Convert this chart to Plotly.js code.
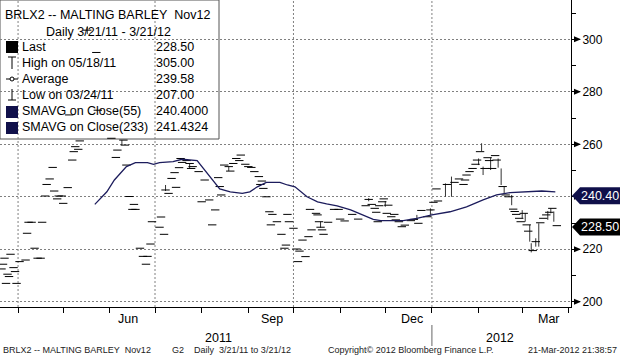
<!DOCTYPE html>
<html><head><meta charset="utf-8">
<script src="https://cdn.plot.ly/plotly-3.0.1.min.js"></script>
<style>html,body{margin:0;padding:0;background:#fff}#chart{width:620px;height:357px}</style>
</head><body><div id="chart"></div>
<script>
// ---- data ----
const dashDates = ['2011-03-21','2011-03-22','2011-03-23','2011-03-24','2011-03-25','2011-03-26','2011-03-27','2011-03-29','2011-03-30','2011-03-31',
'2011-04-02','2011-04-06','2011-04-07','2011-04-08','2011-04-10','2011-04-12','2011-04-14','2011-04-16','2011-04-17','2011-04-19',
'2011-04-20','2011-04-22','2011-04-24','2011-04-25','2011-04-27','2011-04-28','2011-04-30','2011-05-01','2011-05-04','2011-05-05',
'2011-05-07','2011-05-08','2011-05-09','2011-05-11','2011-05-12','2011-05-17','2011-05-23','2011-05-24','2011-06-02','2011-06-05',
'2011-06-06','2011-06-10','2011-06-11','2011-06-12','2011-06-14','2011-06-16','2011-06-17','2011-06-18','2011-06-21','2011-06-23',
'2011-06-25','2011-06-26','2011-06-28','2011-06-29','2011-07-04','2011-07-05','2011-07-07','2011-07-08','2011-07-10','2011-07-12',
'2011-07-14','2011-07-15','2011-07-17','2011-07-18','2011-07-19','2011-07-22','2011-07-24','2011-07-25','2011-07-26','2011-07-30',
'2011-08-01','2011-08-03','2011-08-06','2011-08-08','2011-08-10','2011-08-12','2011-08-13','2011-08-14','2011-08-16','2011-08-19',
'2011-08-20','2011-08-22','2011-08-24','2011-08-26','2011-08-27','2011-08-30','2011-09-01','2011-09-03','2011-09-05','2011-09-08',
'2011-09-09','2011-09-10','2011-09-11','2011-09-13','2011-09-15','2011-09-16','2011-09-17','2011-09-20','2011-09-23','2011-09-25',
'2011-09-26','2011-09-27','2011-09-28','2011-10-01','2011-10-03','2011-10-04','2011-10-05','2011-10-07','2011-10-09','2011-10-11',
'2011-10-12','2011-10-13','2011-10-16','2011-10-17','2011-10-18','2011-10-19','2011-10-20','2011-10-21','2011-10-24','2011-10-28',
'2011-10-31','2011-11-01','2011-11-04','2011-11-09','2011-11-13','2011-11-18','2011-11-20','2011-11-22','2011-11-24','2011-11-25',
'2011-11-26','2011-11-27','2011-11-29','2011-11-30','2011-12-02','2011-12-03','2011-12-05','2011-12-07','2011-12-08','2011-12-10',
'2011-12-12','2011-12-14','2011-12-18','2011-12-20','2011-12-23','2011-12-25','2011-12-29','2011-12-31','2012-01-02','2012-01-04',
'2012-01-05','2012-01-11','2012-01-16','2012-01-19','2012-01-22','2012-01-23','2012-01-24','2012-01-26','2012-01-28','2012-01-30',
'2012-01-31','2012-02-02','2012-02-05','2012-02-07','2012-02-08','2012-02-10','2012-02-12','2012-02-13','2012-02-17','2012-02-19',
'2012-02-21','2012-02-24','2012-02-25','2012-02-26','2012-02-28','2012-02-29','2012-03-02','2012-03-04','2012-03-05','2012-03-08',
'2012-03-10','2012-03-13','2012-03-15','2012-03-17','2012-03-19','2012-03-21','2012-03-24'];
const dashPrices = [212.5,214.3,216.6,207.0,210.5,209.6,218.1,213.0,211.5,207.0,
215.3,215.9,226.1,230.3,230.3,220.4,216.6,216.6,230.3,240.3,
244.7,246.8,251.2,242.2,239.2,240.3,240.3,237.5,243.5,271.2,
254.0,257.2,259.1,258.1,261.3,303.5,295.0,273.0,262.3,255.0,
257.8,261.6,259.7,252.1,240.1,235.2,237.1,235.2,220.4,217.3,
214.3,217.3,222.0,230.5,228.4,232.3,225.7,242.6,241.3,247.0,
249.2,243.6,251.1,254.6,253.1,253.8,252.7,250.8,251.5,249.6,
238.1,246.4,238.8,229.3,235.0,247.3,243.9,240.7,252.1,251.5,
249.8,252.7,254.6,253.8,255.9,252.4,251.5,251.2,249.6,247.7,
244.7,246.0,243.2,240.0,234.3,229.3,233.3,230.5,225.7,220.4,
221.6,233.3,230.5,228.0,220.1,215.3,219.3,223.5,217.2,224.8,
235.2,227.4,233.7,233.1,230.5,228.4,227.4,225.7,230.3,235.2,
235.2,231.5,230.8,233.3,231.5,236.6,239.0,237.1,235.6,234.1,
230.5,236.6,238.1,239.2,233.7,236.8,232.4,233.3,231.2,230.5,
228.6,229.2,230.9,231.4,229.9,234.8,232.4,235.0,237.9,243.0,
238.4,244.7,245.5,246.8,244.7,246.4,248.3,249.6,250.8,252.4,
254.0,257.2,250.8,254.9,253.8,250.8,255.7,254.0,243.9,240.7,
240.0,235.3,234.4,233.3,231.8,230.5,233.7,229.3,226.9,219.5,
222.9,230.1,231.8,233.1,234.1,235.6,229.0];

const rangeDates = ['2011-05-17','2011-06-09','2011-07-08','2011-07-24','2011-08-19','2011-10-19','2011-11-20','2011-12-01','2011-12-22','2011-12-31',
'2012-01-10','2012-01-14','2012-02-01','2012-02-03','2012-02-04','2012-02-09','2012-02-14','2012-02-16','2012-02-18','2012-02-23',
'2012-03-01','2012-03-03','2012-03-06','2012-03-07','2012-03-10','2012-03-12','2012-03-18','2012-03-20','2012-03-22'];
const rangeLows  = [302.0,259.7,242.2,250.8,249.8,228.2,238.3,236.2,231.2,233.1,
240.0,240.0,252.1,257.4,248.3,250.2,251.1,244.5,241.3,236.8,
231.8,230.5,222.9,218.8,221.0,221.0,231.2,233.7,230.5];
const rangeHighs = [305.0,261.6,244.5,252.7,251.5,230.5,239.5,238.4,233.1,235.6,
245.1,247.7,254.6,260.4,251.5,254.9,254.6,250.8,243.9,240.7,
234.9,233.7,229.3,222.3,224.2,229.9,234.6,235.6,234.4];

const smaDates = ['2011-05-22','2011-05-30','2011-06-04','2011-06-12','2011-06-18','2011-06-26','2011-06-30','2011-07-04','2011-07-13','2011-07-19',
'2011-07-29','2011-08-03','2011-08-08','2011-08-13','2011-08-20','2011-08-28','2011-09-02','2011-09-07','2011-09-13','2011-09-22',
'2011-09-27','2011-10-02','2011-10-10','2011-10-17','2011-10-23','2011-10-30','2011-11-08','2011-11-16','2011-11-23','2011-11-28',
'2011-12-13','2011-12-22','2012-01-01','2012-01-13','2012-01-24','2012-02-04','2012-02-13','2012-02-22','2012-03-06','2012-03-14','2012-03-23'];
const smaValues = [237.1,241.9,246.4,251.5,253.0,253.0,252.4,253.0,253.4,254.3,
253.8,250.2,246.7,243.0,241.9,241.3,241.9,243.8,245.5,245.5,
244.5,243.8,240.0,238.1,237.3,236.5,235.0,233.1,231.4,230.9,
230.9,231.8,233.1,234.3,236.2,238.8,240.7,241.6,242.0,242.2,241.9];

const monthStarts = ['2011-04-01','2011-05-01','2011-06-01','2011-07-01','2011-08-01','2011-09-01','2011-10-01','2011-11-01','2011-12-01','2012-01-01','2012-02-01','2012-03-01','2012-04-01'];
const quarterStarts = ['2011-04-01','2011-07-01','2011-10-01','2012-01-01'];
const monthLabels = ['Jun','Sep','Dec','Mar'];
const monthLabelDates = ['2011-06-13','2011-09-16 17:00','2011-12-18 19:00','2012-03-18 19:00'];
const yearLabels = ['2011','2012'];
const yearLabelDates = ['2011-08-12','2012-02-15'];
const yTicks = [200,220,240,260,280,300];
const yTickLabels = ['200','220','','260','280','300']; // 240 is hidden behind the SMA flag

const legendTitle = 'BRLX2 -- MALTING BARLEY\u00a0 Nov12';
const legendSub = 'Daily 3/21/11 - 3/21/12';
const legendLabels = ['Last','High on 05/18/11','Average','Low on 03/24/11','SMAVG on Close(55)','SMAVG on Close(233)'];
const legendValues = ['228.50','305.00','239.58','207.00','240.4000','241.4324'];
const lastValue = 228.50;
const smaLast = 240.40;
const footerTexts = ['BRLX2 -- MALTING BARLEY\u00a0 Nov12','G2','Daily\u00a0 3/21/11 to 3/21/12','Copyright\u00a9 2012 Bloomberg Finance L.P.','21-Mar-2012 21:38:57'];

// ---- geometry helpers (plot area 571 x 307 px) ----
const PW = 571, PH = 307;
const X = p => p / PW;
const Y = p => 1 - p / PH;
const UPP = (315 - 198) / PH; // price units per pixel
const FONT = 'Liberation Sans, Arial, sans-serif';
const NAVY = '#10104a';

// ---- traces ----
const rx = [], ry = [];
rangeDates.forEach((d, i) => { rx.push(d, d, null); ry.push(rangeLows[i], rangeHighs[i], null); });

const traces = [
  {type:'scatter', mode:'lines', x:rx, y:ry, line:{color:'#333', width:1}, hoverinfo:'skip', showlegend:false},
  {type:'scatter', mode:'markers', x:dashDates, y:dashPrices,
   marker:{symbol:'line-ew', size:6, color:'#000', line:{color:'#000', width:1}}, showlegend:false},
  {type:'scatter', mode:'lines', x:smaDates, y:smaValues, line:{color:'#1c1c5c', width:1.3}, showlegend:false}
];

// ---- shapes ----
const shapes = [];
shapes.push({type:'rect', xref:'paper', yref:'paper', x0:X(0), x1:X(219), y0:Y(139), y1:Y(0), fillcolor:'#fff', line:{color:'#555', width:1}, layer:'below'});
quarterStarts.forEach(d => shapes.push({type:'line', xref:'x', yref:'paper', x0:d, x1:d, y0:0, y1:1, line:{color:'#808080', width:1, dash:'2px,2px'}, layer:'below'}));
shapes.push({type:'rect', xref:'paper', yref:'paper', x0:X(6), x1:X(18), y0:Y(53), y1:Y(41), fillcolor:'#000', line:{width:0}});
shapes.push({type:'line', xref:'paper', yref:'paper', x0:X(12), x1:X(12), y0:Y(57), y1:Y(69), line:{color:'#000', width:1}});
shapes.push({type:'line', xref:'paper', yref:'paper', x0:X(8), x1:X(16), y0:Y(57), y1:Y(57), line:{color:'#000', width:1}});
shapes.push({type:'line', xref:'paper', yref:'paper', x0:X(6), x1:X(18), y0:Y(79), y1:Y(79), line:{color:'#000', width:1}});
shapes.push({type:'circle', xref:'paper', yref:'paper', x0:X(10), x1:X(14), y0:Y(81), y1:Y(77), fillcolor:'#fff', line:{color:'#000', width:1}});
shapes.push({type:'line', xref:'paper', yref:'paper', x0:X(12), x1:X(12), y0:Y(89), y1:Y(100), line:{color:'#000', width:1}});
shapes.push({type:'line', xref:'paper', yref:'paper', x0:X(8), x1:X(16), y0:Y(100), y1:Y(100), line:{color:'#000', width:1}});
shapes.push({type:'rect', xref:'paper', yref:'paper', x0:X(6), x1:X(18), y0:Y(118), y1:Y(106), fillcolor:NAVY, line:{width:0}});
shapes.push({type:'rect', xref:'paper', yref:'paper', x0:X(6), x1:X(18), y0:Y(134), y1:Y(122), fillcolor:NAVY, line:{width:0}});
yTicks.forEach(v => shapes.push({type:'path', xref:'paper', yref:'y',
  path:`M ${X(574)},${v + 3*UPP} L ${X(581)},${v} L ${X(574)},${v - 3*UPP} Z`, fillcolor:'#000', line:{width:0}}));
function flag(v, color){
  const h = 8.5*UPP;
  return {type:'path', xref:'paper', yref:'y',
    path:`M ${X(572)},${v} L ${X(580)},${v+h} L ${X(620)},${v+h} L ${X(620)},${v-h} L ${X(580)},${v-h} Z`,
    fillcolor:color, line:{width:0}};
}
shapes.push(flag(smaLast, NAVY));
shapes.push(flag(lastValue, '#000'));
shapes.push({type:'line', xref:'x', yref:'paper', x0:'2012-01-01', x1:'2012-01-01', y0:Y(325), y1:Y(346), line:{color:'#666', width:1}});

// ---- annotations ----
const ann = [];
const A = (o) => Object.assign({showarrow:false, xanchor:'left', yanchor:'middle', font:{family:FONT, size:12.5, color:'#000'}}, o);
ann.push(A({xref:'paper', yref:'paper', x:X(3), y:Y(15), text:legendTitle}));
ann.push(A({xref:'paper', yref:'paper', x:X(108), y:Y(32), xanchor:'center', text:legendSub}));
const rowY = [47,63,79,95,111,127];
legendLabels.forEach((t,i) => {
  ann.push(A({xref:'paper', yref:'paper', x:X(20), y:Y(rowY[i]), text:t}));
  ann.push(A({xref:'paper', yref:'paper', x:X(154), y:Y(rowY[i]), text:legendValues[i]}));
});
monthLabels.forEach((t,i) => ann.push(A({xref:'x', yref:'paper', x:monthLabelDates[i], y:Y(319), xanchor:'center', text:t})));
yearLabels.forEach((t,i) => ann.push(A({xref:'x', yref:'paper', x:yearLabelDates[i], y:Y(338), xanchor:'center', text:t})));
ann.push(A({xref:'paper', yref:'y', x:X(600), y:smaLast, xanchor:'center', text:smaLast.toFixed(2), font:{family:FONT, size:12.5, color:'#fff'}}));
ann.push(A({xref:'paper', yref:'y', x:X(600), y:lastValue, xanchor:'center', text:lastValue.toFixed(2), font:{family:FONT, size:12.5, color:'#fff'}}));
const footX = [1,170,192,326,null];
footerTexts.forEach((t,i) => {
  const o = {xref:'paper', yref:'paper', y:Y(350), text:t, font:{family:FONT, size:9, color:'#222'}};
  if (footX[i] === null) { o.x = X(619); o.xanchor = 'right'; } else { o.x = X(footX[i]); }
  ann.push(A(o));
});

const layout = {
  width:620, height:357,
  margin:{l:0, r:49, t:0, b:50, pad:0},
  paper_bgcolor:'#fff', plot_bgcolor:'#fff',
  showlegend:false,
  xaxis:{type:'date', range:['2011-03-20','2012-04-02 10:00'], tickmode:'array', tickvals:monthStarts, ticktext:monthStarts.map(()=>''),
    ticks:'outside', ticklen:5, tickcolor:'#000', tickwidth:1, showline:true, linecolor:'#000', linewidth:1,
    showgrid:false, zeroline:false, fixedrange:true},
  yaxis:{side:'right', range:[198,315], tickmode:'array', tickvals:yTicks, ticktext:yTickLabels, ticks:'outside', ticklen:8, tickcolor:'#000', tickwidth:1,
    showline:true, linecolor:'#000', linewidth:1, showgrid:true, gridcolor:'#808080', gridwidth:1, griddash:'2px,2px',
    zeroline:false, tickfont:{family:FONT, size:12, color:'#000'}, fixedrange:true,
    minor:{dtick:10, tick0:200, ticks:'outside', ticklen:4, tickcolor:'#000', tickwidth:1, showgrid:false}},
  shapes:shapes,
  annotations:ann
};

Plotly.newPlot('chart', traces, layout, {staticPlot:true, displayModeBar:false});
</script></body></html>
